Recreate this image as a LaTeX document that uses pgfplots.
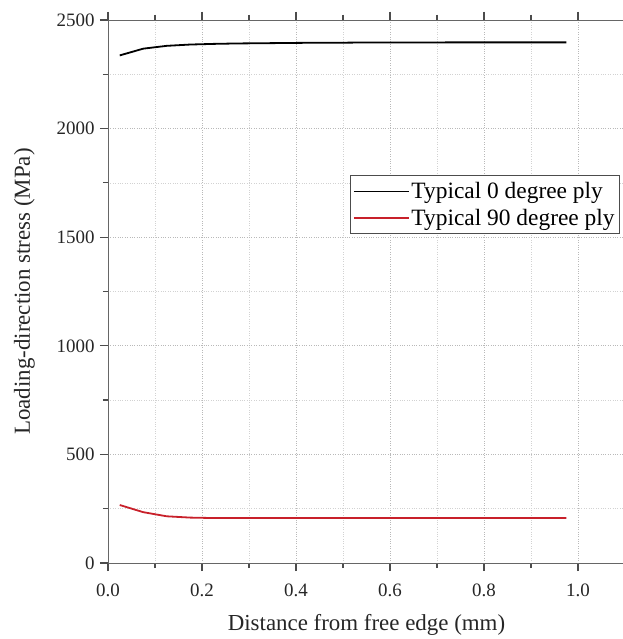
\documentclass[border=0pt]{standalone}
\usepackage{pgfplots}
\pgfplotsset{compat=1.18}
\usepackage{fontspec}
\setmainfont{Liberation Serif}
\definecolor{redline}{RGB}{200,32,42}
\begin{document}
\begin{tikzpicture}
\useasboundingbox (-108bp,-76bp) rectangle (515bp,563bp);
\begin{axis}[
 scale only axis, width=517bp, height=543bp,
 xmin=0, xmax=1.1, ymin=0, ymax=2500,
 axis line style={-, draw=black!60, line width=0.9bp},
 tick align=outside,
 xticklabel pos=lower, yticklabel pos=left,
 xtick pos=both, ytick pos=left,
 xtick={0,0.2,0.4,0.6,0.8,1.0},
 xticklabels={0.0,0.2,0.4,0.6,0.8,1.0},
 ytick={0,500,1000,1500,2000,2500},
 yticklabels={0,500,1000,1500,2000,2500},
 minor x tick num=1, minor y tick num=1,
 major tick length=8bp, minor tick length=5bp,
 every tick/.style={black!70, line width=1.2bp},
 ticklabel style={font=\fontsize{19}{20}\selectfont, text=black!85},
 xticklabel style={yshift=-9bp},
 yticklabel style={xshift=-2bp},
 grid=both,
 major grid style={dotted, gray!55, line width=0.6bp},
 minor grid style={dotted, gray!35, line width=0.6bp},
 xlabel={Distance from free edge (mm)},
 ylabel={Loading-direction stress (MPa)},
 label style={font=\fontsize{23}{25}\selectfont, text=black!85},
 xlabel style={yshift=-11bp},
 ylabel style={yshift=15bp},
 legend style={at={(0.468,0.7145)}, anchor=north west, draw=black!70, line width=0.8bp,
   font=\fontsize{23.5}{24}\selectfont, inner xsep=3bp, inner ysep=5bp, row sep=5bp},
 legend cell align=left,
 legend image code/.code={\draw[#1, line width=1.1bp] (-2bp,0bp) -- (53bp,0bp);},
]
\addplot[black, line width=1.8bp] coordinates {
(0.025,2337) (0.075,2368) (0.125,2381) (0.175,2387) (0.225,2390) (0.275,2392)
(0.325,2393) (0.375,2394) (0.425,2395) (0.475,2395) (0.525,2396) (0.575,2396)
(0.625,2396) (0.675,2396) (0.725,2397) (0.775,2397) (0.825,2397) (0.875,2397)
(0.925,2397) (0.975,2397)};
\addlegendentry{Typical 0 degree ply}
\addplot[redline, line width=1.8bp] coordinates {
(0.025,267) (0.075,234) (0.125,215) (0.175,209) (0.225,207) (0.275,207)
(0.325,207) (0.375,207) (0.425,207) (0.475,207) (0.525,207) (0.575,207)
(0.625,207) (0.675,207) (0.725,207) (0.775,207) (0.825,207) (0.875,207)
(0.925,207) (0.975,207)};
\addlegendentry{Typical 90 degree ply}
\end{axis}
\begin{axis}[
 scale only axis, width=517bp, height=543bp,
 xmin=0, xmax=1.1, ymin=0, ymax=2500,
 axis x line*=top, axis y line=none,
 axis line style={-, draw=black!60, line width=0.9bp},
 tick align=outside,
 xtick={0,0.2,0.4,0.6,0.8,1.0},
 xticklabels={},
 minor x tick num=1,
 major tick length=8bp, minor tick length=5bp,
 every tick/.style={black!70, line width=1.2bp},
]
\end{axis}
\end{tikzpicture}
\end{document}
